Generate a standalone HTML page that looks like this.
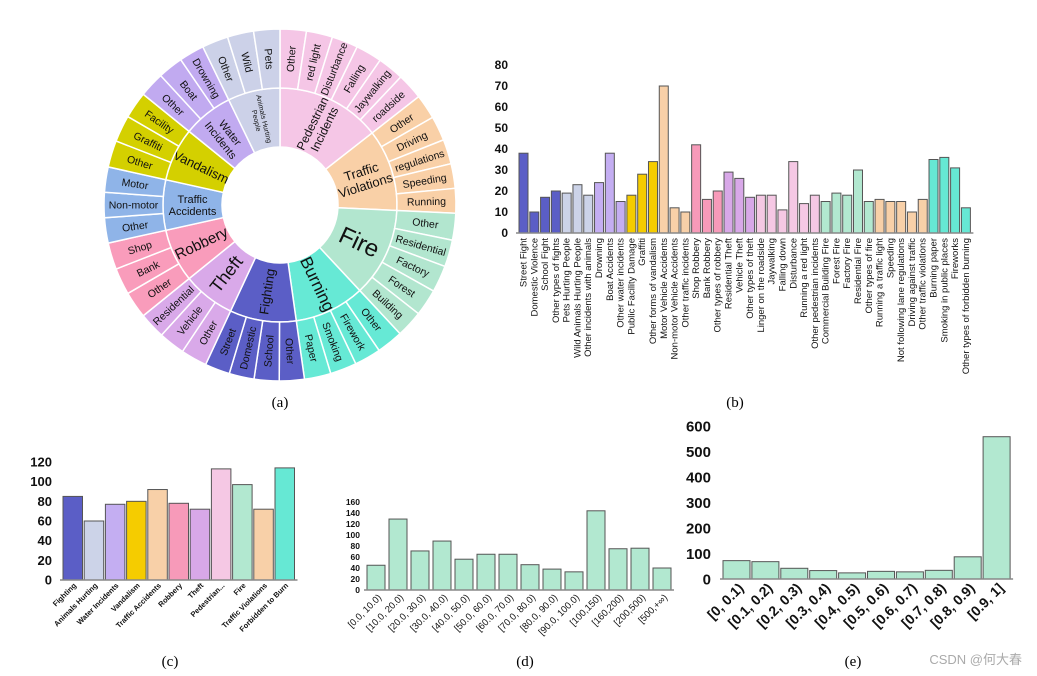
<!DOCTYPE html>
<html><head><meta charset="utf-8">
<style>
html,body{margin:0;padding:0;background:#fff;}
svg{display:block;font-family:"Liberation Sans",Arial,sans-serif;}
.cap{font-family:"Liberation Serif",serif;font-size:15px;}
</style></head>
<body>
<svg id="fig" width="1037" height="676" viewBox="0 0 1037 676" xmlns="http://www.w3.org/2000/svg">
<g id="sun"></g>
<g id="cb"></g>
<g id="cc"></g>
<g id="cd"></g>
<g id="ce"></g>
<text class="cap" x="280" y="407" text-anchor="middle">(a)</text>
<text class="cap" x="735" y="407" text-anchor="middle">(b)</text>
<text class="cap" x="170" y="666" text-anchor="middle">(c)</text>
<text class="cap" x="525" y="666" text-anchor="middle">(d)</text>
<text class="cap" x="853" y="666" text-anchor="middle">(e)</text>
<text x="1022" y="664" text-anchor="end" font-size="13" fill="#aaa" font-family="'Liberation Sans','Noto Sans CJK SC',sans-serif">CSDN @何大春</text>
</svg>
<script>
const NS='http://www.w3.org/2000/svg';
function mk(tag,attrs,parent,txt){const e=document.createElementNS(NS,tag);for(const k in attrs)e.setAttribute(k,attrs[k]);if(txt!==undefined)e.textContent=txt;parent.appendChild(e);return e;}

// ---------- Sunburst data ----------
const sunCats=['Pedestrian Incidents','Traffic Violations','Fire','Burning','Fighting','Theft','Robbery','Traffic Accidents','Vandalism','Water Incidents','Animals Hurting People'];
const sunBounds=[0,52,92.7,137,172,205,231,257.5,282.5,309,334,360];
const sunColors=['#f5c6e6','#f9d0a7','#b2e6cf','#66e9d5','#5b5ec6','#d9a9e9','#f99cbb','#8fb4e8','#d4d000','#c1aaf0','#ccd1e8'];
const sunInnerLabels=[['Pedestrian','Incidents'],['Traffic','Violations'],['Fire'],['Burning'],['Fighting'],['Theft'],['Robbery'],['Traffic','Accidents'],['Vandalism'],['Water','Incidents'],['Animals Hurting','People']];
const sunInnerSize=[12,13,24,17,13,18,15,11,13,11,7];
const sunOuter=[['Other','red light','Disturbance','Falling','Jaywalking','roadside'],['Other','Driving','regulations','Speeding','Running'],['Other','Residential','Factory','Forest','Building'],['Other','Firework','Smoking','Paper'],['Other','School','Domestic','Street'],['Other','Vehicle','Residential'],['Other','Bank','Shop'],['Other','Non-motor','Motor'],['Other','Graffiti','Facility'],['Other','Boat','Drowning'],['Other','Wild','Pets']];

const CX=280,CY=205,R0=58,R1=117,R2=176;
function pt(r,a){const t=a*Math.PI/180;return [CX+r*Math.sin(t),CY-r*Math.cos(t)];}
function arc(r1,r2,a1,a2){const p1=pt(r2,a1),p2=pt(r2,a2),p3=pt(r1,a2),p4=pt(r1,a1);const lg=(a2-a1)>180?1:0;
return `M${p1[0]},${p1[1]}A${r2},${r2} 0 ${lg} 1 ${p2[0]},${p2[1]}L${p3[0]},${p3[1]}A${r1},${r1} 0 ${lg} 0 ${p4[0]},${p4[1]}Z`;}
function radText(g,lines,r,a,fs){const p=pt(r,a);let rot=a<180?a-90:a+90;
 const t=mk('text',{x:p[0],y:p[1],'text-anchor':'middle','font-size':fs,transform:`rotate(${rot} ${p[0]} ${p[1]})`,fill:'#111'},g);
 const n=lines.length;lines.forEach((l,i)=>{mk('tspan',{x:p[0],dy:i===0?((-(n-1)/2)*fs*1.1+fs*0.35):fs*1.1},t,l);});return t;}
const sun=document.getElementById('sun');
sunCats.forEach((c,i)=>{
 const a1=sunBounds[i],a2=sunBounds[i+1];
 const seg=mk('path',{d:arc(R0,R1,a1,a2),fill:sunColors[i],stroke:'#fff','stroke-width':1.5},sun);
 
 
 const lt=radText(sun,sunInnerLabels[i],(R0+R1)/2,(a1+a2)/2,sunInnerSize[i]);
 
 
 const subs=sunOuter[i],n=subs.length,step=(a2-a1)/n;
 subs.forEach((s,j)=>{
  const b1=a1+j*step,b2=b1+step;
  const os=mk('path',{d:arc(R1,R2,b1,b2),fill:sunColors[i],stroke:'#fff','stroke-width':1.5},sun);
  
  
  const ot=radText(sun,[s],(R1+R2)/2,(b1+b2)/2,10.5);
  
  
 });
});

// ---------- Chart (b) data ----------
const bCats=['Street Fight','Domestic Violence','School Fight','Other types of fights','Pets Hurting People','Wild Animals Hurting People','Other incidents with animals','Drowning','Boat Accidents','Other water incidents','Public Facility Damage','Graffiti','Other forms of vandalism','Motor Vehicle Accidents','Non-motor Vehicle Accidents','Other traffic incidents','Shop Robbery','Bank Robbery','Other types of robbery','Residential Theft','Vehicle Theft','Other types of theft','Linger on the roadside','Jaywalking','Falling down','Disturbance','Running a red light','Other pedestrian incidents','Commercial Building Fire','Forest Fire','Factory Fire','Residential Fire','Other types of fire','Running a traffic light','Speeding','Not following lane regulations','Driving against traffic','Other traffic violations','Burning paper','Smoking in public places','Fireworks','Other types of forbidden burning'];
const bValues=[38,10,17,20,19,23,18,24,38,15,18,28,34,70,12,10,42,16,20,29,26,17,18,18,11,34,14,18,15,19,18,30,15,16,15,15,10,16,35,36,31,12];
const bGroup=[0,0,0,0,1,1,1,2,2,2,3,3,3,4,4,4,5,5,5,6,6,6,7,7,7,7,7,7,8,8,8,8,8,9,9,9,9,9,10,10,10,10];
const bTicks=[0,10,20,30,40,50,60,70,80];
const barColors=['#5b5ec6','#ccd3e8','#c4aef2','#f5cc00','#f8d0a8','#f79ab9','#d8a8e8','#f5c8e4','#b2e8d0','#f8d0a8','#66e8d4'];

function drawBars(gid,cats,vals,colors,o){
 const g=document.getElementById(gid);
 const y=v=>o.y0-(v/o.vmax)*(o.y0-o.ytop);
 const x=i=>o.x0+i*o.pitch;
 o.ticks.forEach(t=>{const tt=mk('text',{x:o.tx,y:y(t)+o.tfs*0.35,'text-anchor':'end','font-size':o.tfs,'font-weight':'bold',fill:'#111'},g,t);
  
  });
 vals.forEach((v,i)=>{
  const r=mk('rect',{x:x(i),y:y(v),width:o.bw,height:o.y0-y(v),fill:colors(i),stroke:'#555','stroke-width':1},g);
  
  
 });
 const ax=mk('line',{x1:o.x0-3,x2:x(vals.length-1)+o.bw+3,y1:o.y0,y2:o.y0,stroke:'#888','stroke-width':1.5},g);
 
 
 cats.forEach((c,i)=>{const cx=x(i)+o.bw/2+o.ldx,cy=o.y0+o.ldy;
  const t=mk('text',{x:cx,y:cy,'text-anchor':'end','font-size':o.lfs,'font-weight':o.lbold?'bold':'normal',fill:'#111',transform:`rotate(${o.lrot} ${cx} ${cy})`},g,c);
  
  });
}
drawBars('cb',bCats,bValues,i=>barColors[bGroup[i]],{x0:519,pitch:10.79,bw:9,y0:233,ytop:65,vmax:80,ticks:bTicks,tx:508,tfs:12,lfs:9.5,lrot:-90,ldx:3,ldy:5,lbold:false});

// ---------- Chart (c) ----------
const cCats=['Fighting','Animals Hurting','Water Incidents','Vandalism','Traffic Accidents','Robbery','Theft','Pedestrian...','Fire','Traffic Violations','Forbidden to Burn'];
const cValues=[85,60,77,80,92,78,72,113,97,72,114];
const cTicks=[0,20,40,60,80,100,120];
const cColors=['#5b5ec6','#ccd3e8','#c4aef2','#f5cc00','#f8d0a8','#f79ab9','#d8a8e8','#f5c8e4','#b2e8d0','#f8d0a8','#66e8d4'];
drawBars('cc',cCats,cValues,i=>cColors[i],{x0:63,pitch:21.2,bw:19.5,y0:580,ytop:462,vmax:120,ticks:cTicks,tx:52,tfs:13,lfs:7.5,lrot:-45,ldx:4,ldy:6,lbold:true});

// ---------- Chart (d) ----------
const dCats=['[0.0, 10.0)','[10.0, 20.0)','[20.0, 30.0)','[30.0, 40.0)','[40.0, 50.0)','[50.0, 60.0)','[60.0, 70.0)','[70.0, 80.0)','[80.0, 90.0)','[90.0, 100.0)','[100,150)','[160,200)','[200,500)','[500,+∞)'];
const dValues=[45,129,71,89,56,65,65,46,38,33,144,75,76,40];
const dTicks=[0,20,40,60,80,100,120,140,160];
drawBars('cd',dCats,dValues,i=>'#b2e8d0',{x0:367,pitch:22,bw:18,y0:590,ytop:502,vmax:160,ticks:dTicks,tx:360,tfs:8.5,lfs:9.5,lrot:-45,ldx:6,ldy:8,lbold:false});

// ---------- Chart (e) ----------
const eCats=['[0, 0.1)','[0.1, 0.2)','[0.2, 0.3)','[0.3, 0.4)','[0.4, 0.5)','[0.5, 0.6)','[0.6, 0.7)','[0.7, 0.8)','[0.8, 0.9)','[0.9, 1]'];
const eValues=[72,68,42,33,24,30,28,34,87,558];
const eTicks=[0,100,200,300,400,500,600];
drawBars('ce',eCats,eValues,i=>'#b2e8d0',{x0:723,pitch:28.9,bw:27,y0:579,ytop:426,vmax:600,ticks:eTicks,tx:711,tfs:15,lfs:14,lrot:-45,ldx:8,ldy:10,lbold:true});
</script>
</body></html>
